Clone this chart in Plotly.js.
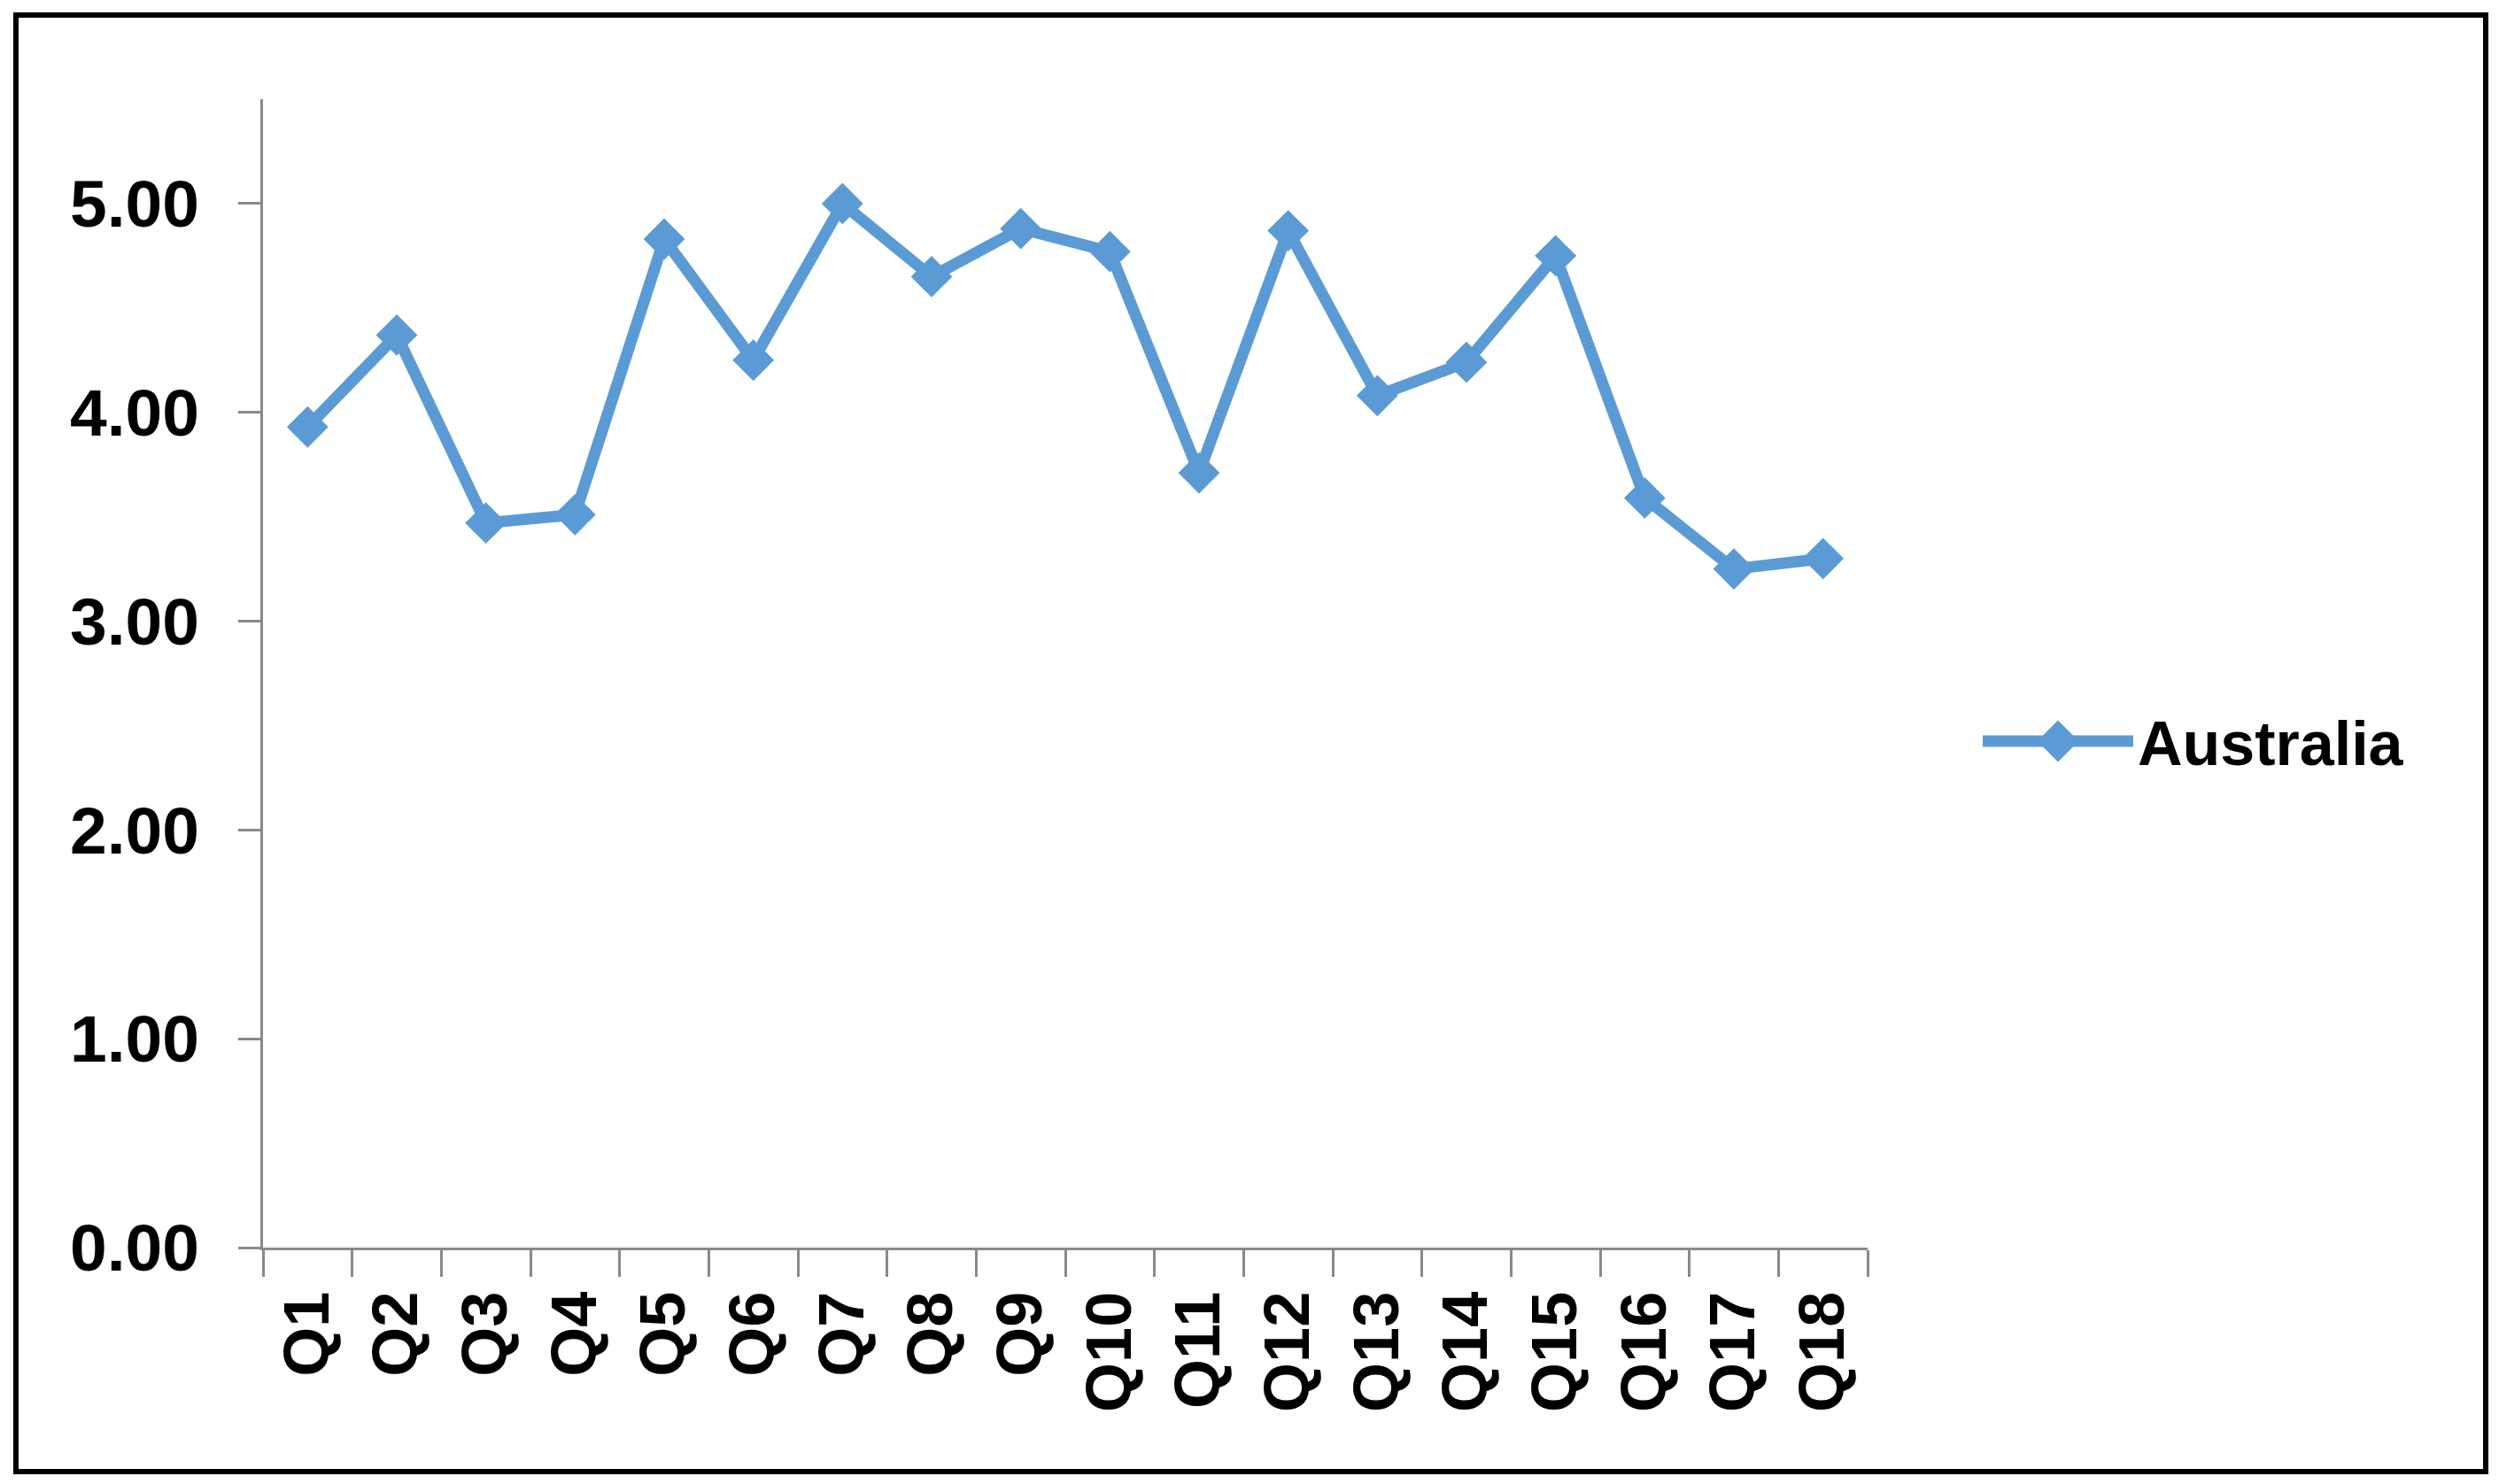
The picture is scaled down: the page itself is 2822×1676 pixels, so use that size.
<!DOCTYPE html>
<html>
<head>
<meta charset="utf-8">
<script src="https://cdn.plot.ly/plotly-3.0.1.min.js"></script>
<style>
  html, body { margin: 0; padding: 0; background: #ffffff; }
  #chart { position: absolute; left: 0; top: 0; width: 2822px; height: 1676px; }
  #frame { position: absolute; left: 15px; top: 14px; width: 2795px; height: 1651px;
           border: 6px solid #000; box-sizing: border-box; pointer-events: none; }
</style>
</head>
<body>
<div id="chart"></div>
<div id="frame"></div>
<script>
const categories = ["Q1","Q2","Q3","Q4","Q5","Q6","Q7","Q8","Q9","Q10","Q11","Q12","Q13","Q14","Q15","Q16","Q17","Q18"];
const seriesName = "Australia";
const australia = [3.93, 4.37, 3.47, 3.51, 4.83, 4.25, 5.00, 4.65, 4.88, 4.77, 3.71, 4.87, 4.08, 4.24, 4.75, 3.59, 3.25, 3.30];
const yTicks = [0, 1, 2, 3, 4, 5];

const lineColor = "#5B9BD5";
const axisColor = "#898989";
const fontFamily = "'Liberation Sans', Arial, sans-serif";
const lineWidth = 13;
const markerSize = 36;

const trace = {
  type: "scatter",
  mode: "lines+markers",
  name: seriesName,
  x: categories,
  y: australia,
  line: { color: lineColor, width: lineWidth },
  marker: { symbol: "diamond", size: markerSize, color: lineColor }
};

const layout = {
  width: 2822,
  height: 1676,
  margin: { l: 297, r: 713, t: 112, b: 267, pad: 0 },
  paper_bgcolor: "#ffffff",
  plot_bgcolor: "#ffffff",
  showlegend: true,
  legend: {
    xref: "container", yref: "container",
    x: 2234 / 2822, xanchor: "left",
    y: 1 - 837 / 1676, yanchor: "middle",
    itemwidth: 170,
    font: { family: fontFamily, size: 70, color: "#000000", weight: "bold" },
    bgcolor: "rgba(0,0,0,0)",
    borderwidth: 0
  },
  xaxis: {
    type: "category",
    range: [-0.5, categories.length - 0.5],
    showline: true, linecolor: axisColor, linewidth: 3,
    ticks: "outside", tickson: "boundaries", ticklen: 30, tickwidth: 3, tickcolor: axisColor,
    tickangle: -90,
    ticklabelstandoff: 18,
    showgrid: false, zeroline: false,
    tickfont: { family: fontFamily, size: 72, color: "#000000", weight: "bold" },
    fixedrange: true
  },
  yaxis: {
    range: [0, 5.5],
    tickvals: yTicks,
    tickformat: ".2f",
    showline: true, linecolor: axisColor, linewidth: 3,
    ticks: "outside", ticklen: 25, tickwidth: 3, tickcolor: axisColor,
    ticklabelstandoff: 29,
    showgrid: false, zeroline: false,
    tickfont: { family: fontFamily, size: 75, color: "#000000", weight: "bold" },
    fixedrange: true
  }
};

Plotly.newPlot("chart", [trace], layout, { staticPlot: true, displayModeBar: false }).then(function (gd) {
  // Plotly caps legend symbol sizes; enlarge the legend sample to match the trace styling.
  gd.querySelectorAll(".legend .legendlines path").forEach(function (p) {
    p.style.strokeWidth = lineWidth + "px";
  });
  gd.querySelectorAll(".legend .legendpoints path").forEach(function (p) {
    var t = p.getAttribute("transform") || "";
    p.setAttribute("transform", t + " scale(" + (markerSize / 16) + ")");
  });
});
</script>
</body>
</html>
